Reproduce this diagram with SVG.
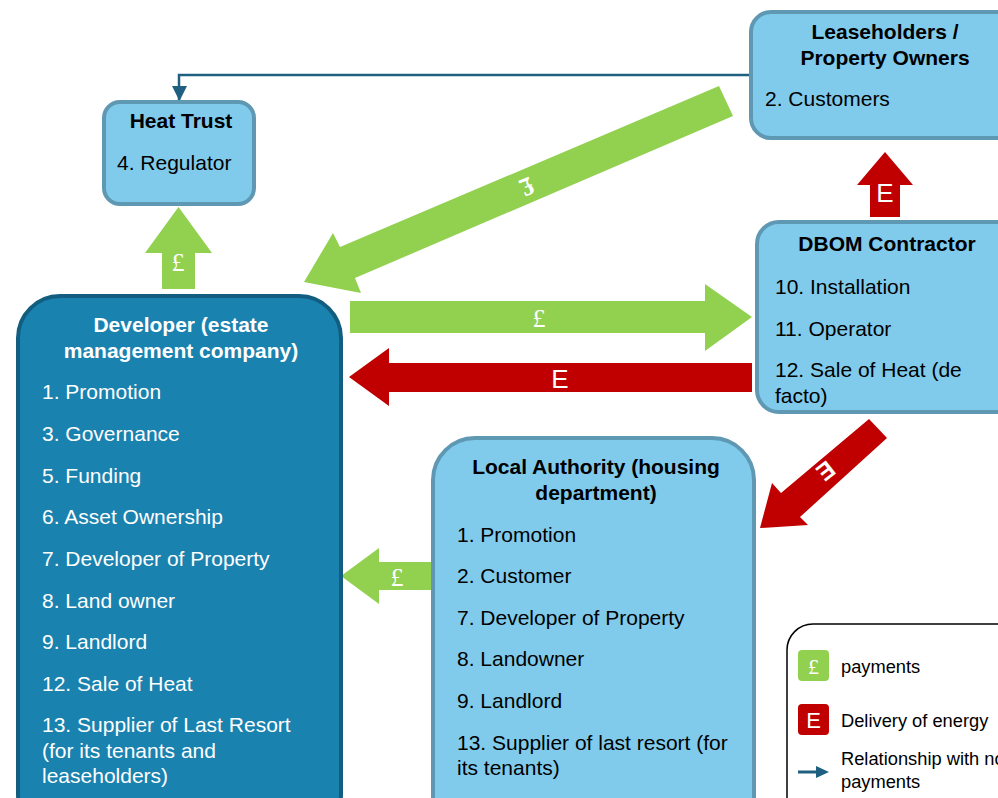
<svg xmlns="http://www.w3.org/2000/svg" width="998" height="798" viewBox="0 0 998 798">
<defs>
<style>
text{font-family:"Liberation Sans",Arial,sans-serif;font-size:21px;fill:#000}
.b{font-weight:bold}
.w{fill:#fff}
.light{fill:#80CBEC;stroke:#5E98B2;stroke-width:4}
.dark{fill:#1A82AF;stroke:#135E80;stroke-width:4}
.g{fill:#92D050}
.r{fill:#C00000}
.lbl{fill:#fff;font-size:26px;text-anchor:middle}
.serif{font-family:"Liberation Serif","Times New Roman",serif}
.leg{font-size:18.3px}
.m{text-anchor:middle}
</style>
<marker id="ah" viewBox="0 0 10 10" refX="10" refY="5" markerWidth="5" markerHeight="5" orient="auto" markerUnits="userSpaceOnUse">
<path d="M0,0 L10,5 L0,10 z" fill="#1F5F7F"/>
</marker>
</defs>
<rect width="998" height="798" fill="#fff"/>

<g id="connectors">
<path d="M752,75 H179 V101" fill="none" stroke="#1F5F7F" stroke-width="2.5"/>
<path d="M172,86 L187,86 L179.5,101 z" fill="#1F5F7F"/>
<!-- green up arrow £ -->
<polygon class="g" points="162,289 195,289 195,253 212,253 178.5,207 145,253 162,253"/>
<text class="lbl serif" x="178" y="271">£</text>
<!-- red up arrow E -->
<polygon class="r" points="870,217 900,217 900,185 913,185 885,152 857,185 870,185"/>
<text class="lbl" x="885" y="202">E</text>
<!-- green right arrow -->
<polygon class="g" points="350,301 705,301 705,284 752,317 705,351 705,333 350,333"/>
<text class="lbl serif" x="539" y="327">£</text>
<!-- red left arrow -->
<polygon class="r" points="752,363 389,363 389,348 349,377 389,406 389,392 752,392"/>
<text class="lbl" x="560" y="388">E</text>
<!-- green diagonal arrow -->
<polygon class="g" points="719,86 733,116 355,278 361,293 304,282 333,233 340,247"/>
<text class="serif" x="0" y="0" transform="translate(527,187) rotate(157)" style="font-size:26px;font-weight:bold;fill:#fff;text-anchor:middle" dy="9">£</text>
<!-- red diagonal arrow -->
<polygon class="r" points="869,419 887,438 800,517 808,525 760,528 772,483 781,493"/>
<text x="0" y="0" transform="translate(826,471) rotate(142)" style="font-size:24px;font-weight:bold;fill:#fff;text-anchor:middle" dy="8.5">E</text>
<!-- green small left arrow -->
<polygon class="g" points="432,562 379,562 379,548 341,576 379,604 379,590 432,590"/>
<text class="lbl serif" x="397" y="586">£</text>
</g>

<g id="heat-trust">
<rect class="light" x="104" y="102" width="150" height="102" rx="16"/>
<text class="b m" x="181" y="128">Heat Trust</text>
<text x="117" y="170">4. Regulator</text>
</g>

<g id="leaseholders">
<rect class="light" x="751" y="12" width="270" height="126" rx="20"/>
<text class="b m" x="885" y="38.5">Leaseholders /</text>
<text class="b m" x="885" y="64.5">Property Owners</text>
<text x="765" y="106">2. Customers</text>
</g>

<g id="dbom">
<rect class="light" x="757" y="222" width="262" height="190" rx="22"/>
<text class="b m" x="887" y="251">DBOM Contractor</text>
<text x="775" y="294">10. Installation</text>
<text x="775" y="336">11. Operator</text>
<text x="775" y="377">12. Sale of Heat (de</text>
<text x="775" y="403">facto)</text>
</g>

<g id="developer">
<rect class="dark" x="18" y="296" width="323" height="540" rx="42"/>
<text class="b m w" x="181" y="332">Developer (estate</text>
<text class="b m w" x="181" y="358">management company)</text>
<text class="w" x="42" y="399">1. Promotion</text>
<text class="w" x="42" y="441">3. Governance</text>
<text class="w" x="42" y="483">5. Funding</text>
<text class="w" x="42" y="524">6. Asset Ownership</text>
<text class="w" x="42" y="566">7. Developer of Property</text>
<text class="w" x="42" y="608">8. Land owner</text>
<text class="w" x="42" y="649">9. Landlord</text>
<text class="w" x="42" y="691">12. Sale of Heat</text>
<text class="w" x="42" y="732">13. Supplier of Last Resort</text>
<text class="w" x="42" y="758">(for its tenants and</text>
<text class="w" x="42" y="783">leaseholders)</text>
</g>

<g id="local-authority">
<rect class="light" x="433" y="438" width="321" height="400" rx="42"/>
<text class="b m" x="596" y="473.5">Local Authority (housing</text>
<text class="b m" x="596" y="499.5">department)</text>
<text x="457" y="542">1. Promotion</text>
<text x="457" y="583">2. Customer</text>
<text x="457" y="625">7. Developer of Property</text>
<text x="457" y="666">8. Landowner</text>
<text x="457" y="708">9. Landlord</text>
<text x="457" y="750">13. Supplier of last resort (for</text>
<text x="457" y="775">its tenants)</text>
</g>

<g id="legend">
<rect x="787" y="624" width="260" height="200" rx="26" fill="#fff" stroke="#000" stroke-width="1.5"/>
<rect x="798" y="650" width="31" height="31" rx="4" fill="#92D050"/>
<text class="serif" x="813.5" y="674" style="fill:#fff;font-size:22px;text-anchor:middle">£</text>
<text class="leg" x="841" y="673">payments</text>
<rect x="798" y="704" width="31" height="31" rx="4" fill="#C00000"/>
<text x="813.5" y="728" style="fill:#fff;font-size:22px;text-anchor:middle">E</text>
<text class="leg" x="841" y="726.5">Delivery of energy</text>
<path d="M798,772 H818" stroke="#1F5F7F" stroke-width="3"/>
<path d="M816,766 L829,772 L816,778 z" fill="#1F5F7F"/>
<text class="leg" x="841" y="764.5">Relationship with no</text>
<text class="leg" x="841" y="787.5">payments</text>
</g>
</svg>
